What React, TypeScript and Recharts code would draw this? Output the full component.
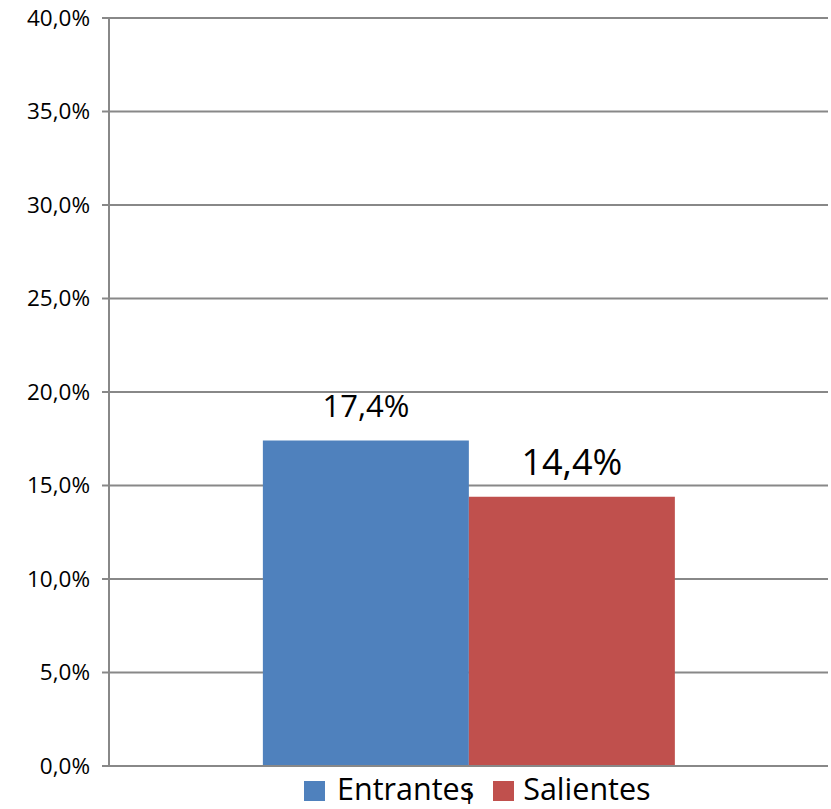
import React from "react";
import {
  BarChart,
  Bar,
  XAxis,
  YAxis,
  CartesianGrid,
  Legend,
  LabelList,
} from "recharts";

const categories = ["1"];
const entrantes = [17.4];
const salientes = [14.4];
const yTicks = [0, 5, 10, 15, 20, 25, 30, 35, 40];

const data = categories.map((c, i) => ({
  name: c,
  Entrantes: entrantes[i],
  Salientes: salientes[i],
}));

const FONT = "'Open Sans', sans-serif";
const BLUE = "#4f81bd";
const RED = "#c0504d";
const GRID = "#888888";

const pct = (v: number) => v.toFixed(1).replace(".", ",") + "%";

const legendItems = [
  { name: "Entrantes", color: BLUE, gap: 12, after: 19 },
  { name: "Salientes", color: RED, gap: 9, after: 0 },
];

const LegendContent = () => (
  <div
    style={{
      display: "flex",
      alignItems: "flex-start",
      fontFamily: FONT,
      fontSize: 30.5,
      lineHeight: "36px",
      color: "#000",
      paddingLeft: 304,
    }}
  >
    {legendItems.map((it) => (
      <div key={it.name} style={{ display: "flex", alignItems: "flex-start", marginRight: it.after }}>
        <span
          style={{
            width: 21,
            height: 20,
            background: it.color,
            display: "inline-block",
            marginTop: 11,
            marginRight: it.gap,
          }}
        />
        <span>{it.name}</span>
      </div>
    ))}
  </div>
);

const App = () => {
  return (
    <div style={{ position: "absolute", left: 0, top: 0 }}>
      <BarChart
        width={831}
        height={809}
        data={data}
        margin={{ top: 18, right: 3, left: 0, bottom: 0 }}
        barCategoryGap="21.4%"
        barGap={0}
      >
        <CartesianGrid vertical={false} stroke={GRID} strokeWidth={2} />
        <XAxis
          dataKey="name"
          height={43}
          stroke={GRID}
          strokeWidth={2}
          tickLine={false}
          tick={{ fill: "#000", fontSize: 22, fontFamily: FONT, dy: 14 }}
        />
        <YAxis
          width={109}
          domain={[0, 40]}
          ticks={yTicks}
          tickFormatter={pct}
          stroke={GRID}
          strokeWidth={2}
          tickSize={7}
          tick={{ fill: "#000", fontSize: 22.5, fontFamily: FONT }}
          interval={0}
          tickMargin={12}
        />
        <Legend
          verticalAlign="middle"
          align="center"
          content={<LegendContent />}
          wrapperStyle={{ top: 770, left: 0, width: 831 }}
        />
        <Bar dataKey="Entrantes" fill={BLUE} isAnimationActive={false}>
          <LabelList
            dataKey="Entrantes"
            position="top"
            offset={24}
            formatter={(v: any) => pct(Number(v))}
            style={{ fill: "#000", fontSize: 31, fontFamily: FONT }}
          />
        </Bar>
        <Bar dataKey="Salientes" fill={RED} isAnimationActive={false}>
          <LabelList
            dataKey="Salientes"
            position="top"
            offset={22}
            formatter={(v: any) => pct(Number(v))}
            style={{ fill: "#000", fontSize: 36, fontFamily: FONT }}
          />
        </Bar>
      </BarChart>
    </div>
  );
};

export default App;
